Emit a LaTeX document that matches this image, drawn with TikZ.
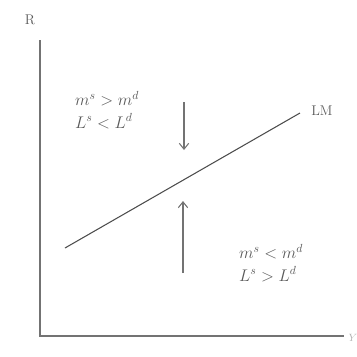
\documentclass[tikz,border=0pt]{standalone}
\usetikzlibrary{arrows.meta}
\begin{document}
\begin{tikzpicture}[x=0.03cm,y=-0.03cm]
        \useasboundingbox (0,0) rectangle (357,356);
        \tikzset{sketch/.style={draw=black!55, line width=0.9pt},
                 hand/.style={text=black!65, font=\Large}}
        % axes
        \coordinate (origin) at (40,336);
        \coordinate (ytop) at (40,40);
        \coordinate (xend) at (344,336);
        \draw[sketch] (ytop) -- (origin) -- (xend);
        \node[hand, font=\large] (rlabel) at (30,20) {R};
        \node[hand, text=black!30, font=\small] (ylabel) at (353,338) {$Y$};
        
        % LM curve
        \coordinate (lmstart) at (65,248);
        \coordinate (lmend) at (300,113);
        \draw[sketch, black!70] (lmstart) -- (lmend);
        \node[hand, font=\large] (lmlabel) at (322,111) {LM};
        
        % arrows towards LM
        \coordinate (downtop) at (184,102);
        \coordinate (downtip) at (184,150);
        \coordinate (upbase) at (183,273);
        \coordinate (uptip) at (183,201);
        \draw[sketch, -{Straight Barb[length=5pt,width=8pt]}] (downtop) -- (downtip);
        \draw[sketch, -{Straight Barb[length=5pt,width=8pt]}] (upbase) -- (uptip);
        
        % excess supply / demand
        \node[hand, align=left] (above) at (107,110) {$m^s > m^d$\\[1pt] $L^s < L^d$};
        \node[hand, align=left] (below) at (271,263) {$m^s < m^d$\\[1pt] $L^s > L^d$};
    \end{tikzpicture}
\end{document}
